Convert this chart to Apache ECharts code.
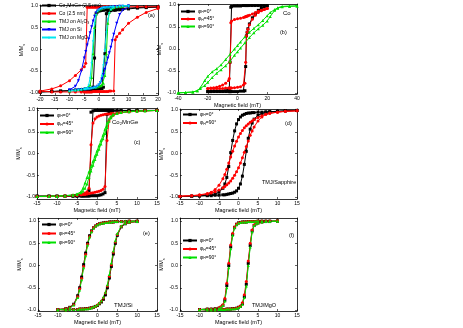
<!DOCTYPE html>
<html>
<head>
<meta charset="utf-8">
<script src="https://cdn.jsdelivr.net/npm/echarts@6/dist/echarts.min.js"></script>
<style>
html, body { margin: 0; padding: 0; background: #fff; }
#chart { width: 463px; height: 328px; }
</style>
</head>
<body>
<div id="chart"></div>
<script>
// field grids (mT)
var fieldA = [-20,-16,-13,-10,-8,-6,-5,-4.5,-4,-3.5,-3,-2.5,-2,-1.5,-1,-0.5,0,0.5,1,1.5,2,2.5,3,3.5,4,5,5.5,6,7,8,10,13,16,20];
var fieldTmj = [-10,-8,-7,-6,-5,-4.5,-4,-3.5,-3,-2.5,-2,-1.5,-1,-0.5,0,0.5,1,1.5,2,2.5,3,3.5,4,4.5,5,6,7,8,10];
var fieldB = [-20,-18,-16,-14,-12,-10,-8,-6,-5.5,-5,-4.5,-4,-2,0,2,4,5,5.5,6,6.5,7,8,10,12,14,16,18,20];
var fieldB90 = [-40,-35,-30,-27,-25,-22,-20,-17,-14,-11,-8,-5,-2,0,2,5,8,11,14,17,20,22,25,27,30,35,40];
var fieldC = [-15,-12,-10,-8,-6,-5,-4,-3.5,-3,-2.5,-2,-1.5,-1,-0.5,0,0.5,1,1.5,2,2.5,3,3.5,4,5,6,8,10,12,15];
var fieldD = [-15,-12,-10,-8,-7,-6,-5,-4,-3.5,-3,-2.5,-2,-1.5,-1,-0.5,0,0.5,1,1.5,2,2.5,3,3.5,4,5,6,7,8,10,12,15];

// M/Ms, "down" = branch coming from +saturation, "up" = from -saturation
var aCmgDown = [-0.98,-0.97,-0.96,-0.95,-0.94,-0.94,-0.93,-0.93,-0.92,-0.92,-0.91,-0.9,-0.87,-0.2,0.82,0.86,0.88,0.89,0.9,0.9,0.91,0.91,0.92,0.92,0.92,0.93,0.93,0.93,0.94,0.94,0.95,0.96,0.97,0.98];
var aCmgUp = [-0.98,-0.97,-0.96,-0.95,-0.94,-0.94,-0.93,-0.93,-0.93,-0.93,-0.93,-0.92,-0.92,-0.92,-0.92,-0.91,-0.91,-0.9,-0.9,-0.87,-0.1,0.82,0.86,0.88,0.89,0.9,0.9,0.91,0.91,0.92,0.93,0.95,0.96,0.97];
var aCoDown = [-0.96,-0.91,-0.84,-0.72,-0.6,-0.47,-0.4,-0.32,0.97,0.97,0.97,0.97,0.97,0.97,0.97,0.97,0.97,0.97,0.97,0.98,0.98,0.98,0.98,0.98,0.98,0.98,0.98,0.98,0.98,0.98,0.98,0.98,0.98,0.98];
var aCoUp = [-0.98,-0.98,-0.98,-0.98,-0.98,-0.98,-0.98,-0.98,-0.98,-0.98,-0.98,-0.98,-0.97,-0.97,-0.97,-0.97,-0.97,-0.97,-0.97,-0.97,-0.97,-0.97,-0.97,-0.96,-0.96,-0.96,0.22,0.29,0.37,0.45,0.6,0.74,0.85,0.94];
var aAlDown = [-0.95,-0.93,-0.92,-0.91,-0.9,-0.9,-0.89,-0.87,-0.82,-0.65,-0.1,0.5,0.8,0.88,0.91,0.93,0.94,0.95,0.96,0.96,0.97,0.97,0.98,0.98,0.98,0.99,0.99,0.99,1.0];
var aAlUp = [-0.95,-0.93,-0.92,-0.91,-0.9,-0.9,-0.9,-0.89,-0.89,-0.88,-0.88,-0.87,-0.87,-0.86,-0.85,-0.84,-0.82,-0.78,-0.6,-0.1,0.6,0.85,0.92,0.95,0.96,0.98,0.99,0.99,1.0];
var aSiDown = [-0.93,-0.85,-0.72,-0.5,-0.2,-0.05,0.1,0.24,0.38,0.52,0.65,0.76,0.84,0.88,0.91,0.93,0.94,0.95,0.95,0.96,0.96,0.97,0.97,0.97,0.98,0.98,0.99,0.99,1.0];
var aSiUp = [-0.95,-0.94,-0.93,-0.93,-0.92,-0.92,-0.91,-0.91,-0.9,-0.9,-0.89,-0.88,-0.87,-0.85,-0.82,-0.76,-0.68,-0.58,-0.46,-0.33,-0.2,-0.08,0.05,0.2,0.35,0.6,0.8,0.9,0.97];
var aMgoDown = [-0.96,-0.94,-0.93,-0.92,-0.91,-0.9,-0.88,-0.82,-0.65,-0.3,0.2,0.6,0.8,0.88,0.92,0.94,0.96,0.97,0.97,0.98,0.98,0.98,0.99,0.99,0.99,0.99,1.0,1.0,1.0];
var aMgoUp = [-0.96,-0.94,-0.93,-0.92,-0.91,-0.91,-0.9,-0.9,-0.89,-0.89,-0.88,-0.87,-0.86,-0.84,-0.8,-0.74,-0.6,-0.35,0.0,0.4,0.7,0.85,0.92,0.95,0.97,0.98,0.99,1.0,1.0];

var b0Down = [-0.97,-0.97,-0.96,-0.96,-0.96,-0.96,-0.95,-0.94,-0.9,-0.3,0.95,0.97,0.98,0.98,0.98,0.99,0.99,0.99,0.99,0.99,0.99,0.99,0.99,0.99,0.99,0.99,0.99,0.99];
var b0Up = [-0.97,-0.97,-0.97,-0.97,-0.97,-0.97,-0.97,-0.97,-0.97,-0.97,-0.97,-0.97,-0.97,-0.97,-0.96,-0.96,-0.95,-0.4,0.3,0.38,0.46,0.57,0.71,0.81,0.88,0.93,0.96,0.98];
var b45Down = [-0.9,-0.89,-0.88,-0.87,-0.85,-0.82,-0.78,-0.72,-0.67,-0.3,0.6,0.64,0.67,0.69,0.7,0.72,0.73,0.74,0.74,0.75,0.76,0.77,0.8,0.83,0.86,0.88,0.9,0.92];
var b45Up = [-0.9,-0.9,-0.9,-0.9,-0.9,-0.9,-0.89,-0.89,-0.89,-0.89,-0.89,-0.89,-0.88,-0.87,-0.86,-0.82,-0.78,-0.3,0.3,0.38,0.45,0.55,0.68,0.77,0.83,0.87,0.9,0.92];
var b90Down = [-1.0,-0.99,-0.98,-0.95,-0.88,-0.72,-0.62,-0.52,-0.45,-0.36,-0.24,-0.12,0.0,0.08,0.16,0.28,0.38,0.47,0.55,0.65,0.76,0.83,0.9,0.93,0.96,0.97,0.98];
var b90Up = [-1.0,-0.99,-0.98,-0.95,-0.9,-0.83,-0.76,-0.65,-0.55,-0.47,-0.38,-0.28,-0.14,-0.06,0.02,0.14,0.26,0.37,0.46,0.54,0.64,0.74,0.88,0.94,0.97,0.98,0.98];

var c0Down = [-0.98,-0.98,-0.98,-0.98,-0.98,-0.98,-0.97,-0.97,-0.96,-0.95,-0.85,0.95,0.98,0.99,0.99,0.99,0.99,0.99,0.99,0.99,0.99,0.99,0.99,0.99,0.99,0.99,0.99,0.99,0.99];
var c0Up = [-0.98,-0.98,-0.98,-0.98,-0.98,-0.98,-0.98,-0.98,-0.98,-0.98,-0.98,-0.97,-0.97,-0.97,-0.97,-0.96,-0.95,-0.93,-0.9,0.9,0.96,0.97,0.98,0.98,0.99,0.99,0.99,0.99,0.99];
var c45Down = [-0.99,-0.99,-0.98,-0.98,-0.97,-0.96,-0.95,-0.93,-0.91,-0.88,-0.8,0.2,0.7,0.8,0.84,0.86,0.88,0.89,0.9,0.91,0.91,0.92,0.92,0.93,0.94,0.96,0.97,0.98,0.99];
var c45Up = [-0.99,-0.98,-0.98,-0.97,-0.96,-0.96,-0.95,-0.94,-0.94,-0.93,-0.92,-0.91,-0.9,-0.89,-0.88,-0.87,-0.85,-0.82,-0.76,0.3,0.75,0.84,0.88,0.92,0.94,0.96,0.97,0.98,0.99];
var c90Down = [-0.99,-0.98,-0.98,-0.97,-0.95,-0.93,-0.88,-0.8,-0.68,-0.55,-0.42,-0.3,-0.18,-0.06,0.06,0.18,0.3,0.42,0.56,0.7,0.8,0.86,0.9,0.93,0.95,0.97,0.98,0.98,0.99];
var c90Up = [-0.99,-0.98,-0.98,-0.97,-0.96,-0.94,-0.9,-0.87,-0.8,-0.7,-0.55,-0.4,-0.27,-0.14,-0.02,0.1,0.22,0.34,0.46,0.6,0.74,0.82,0.88,0.92,0.94,0.96,0.97,0.98,0.99];

var d0Down = [-0.99,-0.98,-0.97,-0.96,-0.95,-0.93,-0.89,-0.8,-0.7,-0.55,-0.3,0.02,0.3,0.52,0.68,0.78,0.84,0.88,0.9,0.92,0.93,0.93,0.94,0.94,0.95,0.95,0.96,0.96,0.97,0.98,0.99];
var d0Up = [-0.99,-0.98,-0.98,-0.97,-0.97,-0.96,-0.96,-0.95,-0.95,-0.94,-0.93,-0.92,-0.91,-0.89,-0.86,-0.8,-0.7,-0.52,-0.25,0.05,0.35,0.56,0.7,0.79,0.88,0.92,0.94,0.96,0.97,0.98,0.99];
var d90Down = [-0.98,-0.97,-0.95,-0.92,-0.89,-0.83,-0.73,-0.58,-0.48,-0.36,-0.22,-0.08,0.05,0.17,0.28,0.38,0.46,0.53,0.59,0.64,0.68,0.72,0.75,0.78,0.83,0.87,0.9,0.92,0.95,0.97,0.98];
var d90Up = [-0.98,-0.97,-0.96,-0.93,-0.91,-0.88,-0.84,-0.79,-0.76,-0.72,-0.68,-0.63,-0.57,-0.5,-0.42,-0.33,-0.22,-0.1,0.03,0.16,0.29,0.42,0.52,0.61,0.75,0.84,0.9,0.93,0.95,0.97,0.98];

var e0Down = [-0.99,-0.97,-0.94,-0.87,-0.68,-0.5,-0.26,0.02,0.28,0.5,0.67,0.78,0.85,0.89,0.92,0.94,0.95,0.96,0.97,0.97,0.98,0.98,0.98,0.99,0.99,0.99,0.99,1.0,1.0];
var e0Up = [-1.0,-1.0,-0.99,-0.99,-0.99,-0.98,-0.98,-0.98,-0.97,-0.97,-0.96,-0.95,-0.94,-0.92,-0.9,-0.86,-0.82,-0.76,-0.66,-0.5,-0.28,-0.02,0.26,0.5,0.68,0.87,0.94,0.97,0.99];
var e45Down = [-0.99,-0.97,-0.95,-0.88,-0.7,-0.52,-0.29,-0.02,0.25,0.48,0.65,0.77,0.85,0.89,0.92,0.94,0.95,0.96,0.97,0.97,0.98,0.98,0.98,0.99,0.99,0.99,0.99,1.0,1.0];
var e45Up = [-1.0,-1.0,-0.99,-0.99,-0.99,-0.98,-0.98,-0.98,-0.97,-0.97,-0.96,-0.95,-0.94,-0.92,-0.89,-0.85,-0.8,-0.73,-0.62,-0.46,-0.24,0.02,0.3,0.53,0.7,0.88,0.95,0.97,0.99];
var e90Down = [-0.99,-0.98,-0.95,-0.89,-0.72,-0.55,-0.32,-0.05,0.22,0.46,0.64,0.76,0.84,0.89,0.92,0.94,0.95,0.96,0.97,0.97,0.98,0.98,0.99,0.99,0.99,0.99,1.0,1.0,1.0];
var e90Up = [-1.0,-1.0,-0.99,-0.99,-0.99,-0.98,-0.98,-0.98,-0.97,-0.97,-0.96,-0.95,-0.93,-0.91,-0.88,-0.84,-0.79,-0.71,-0.6,-0.43,-0.2,0.06,0.33,0.56,0.72,0.89,0.95,0.98,0.99];

var f0Down = [-0.99,-0.98,-0.98,-0.97,-0.96,-0.94,-0.9,-0.78,-0.45,0.0,0.42,0.7,0.86,0.93,0.96,0.97,0.98,0.98,0.98,0.99,0.99,0.99,0.99,0.99,1.0,1.0,1.0,1.0,1.0];
var f0Up = [-1.0,-1.0,-1.0,-1.0,-0.99,-0.99,-0.99,-0.99,-0.98,-0.98,-0.98,-0.97,-0.97,-0.96,-0.94,-0.92,-0.86,-0.7,-0.42,0.05,0.45,0.78,0.9,0.94,0.96,0.98,0.99,0.99,1.0];
var f45Down = [-0.99,-0.98,-0.98,-0.97,-0.95,-0.93,-0.88,-0.74,-0.4,0.05,0.46,0.72,0.87,0.93,0.96,0.97,0.98,0.98,0.98,0.99,0.99,0.99,0.99,0.99,1.0,1.0,1.0,1.0,1.0];
var f45Up = [-1.0,-1.0,-1.0,-1.0,-0.99,-0.99,-0.99,-0.99,-0.98,-0.98,-0.98,-0.97,-0.97,-0.96,-0.94,-0.91,-0.84,-0.66,-0.36,0.1,0.5,0.8,0.91,0.95,0.96,0.98,0.99,0.99,1.0];
var f90Down = [-0.99,-0.98,-0.98,-0.97,-0.96,-0.94,-0.9,-0.8,-0.5,-0.05,0.38,0.68,0.85,0.92,0.96,0.97,0.98,0.98,0.98,0.99,0.99,0.99,0.99,1.0,1.0,1.0,1.0,1.0,1.0];
var f90Up = [-1.0,-1.0,-1.0,-1.0,-0.99,-0.99,-0.99,-0.99,-0.98,-0.98,-0.98,-0.97,-0.97,-0.96,-0.95,-0.92,-0.87,-0.72,-0.46,0.0,0.42,0.76,0.9,0.94,0.96,0.98,0.99,0.99,1.0];

var yTicks = [-1, -0.5, 0, 0.5, 1];

var font = 'Liberation Sans, DejaVu Sans, Arial, sans-serif';
var starPath = 'path://M5,0 L6.2,3.8 L10,3.8 L6.9,6.1 L8.1,10 L5,7.6 L1.9,10 L3.1,6.1 L0,3.8 L3.8,3.8 Z';
var downTri = 'path://M0,0 L10,0 L5,9 Z';

// panel layout: grid box, x range, y range, legend
var panels = [
    { grid: {left: 40, top: 5, width: 118, height: 90}, x: [-20, 20, 5], y: [-1.05, 1.02], xname: '',
      legend: {left: 41, top: 3, gap: 3} },
    { grid: {left: 178, top: 4, width: 119, height: 90}, x: [-40, 40, 20], y: [-1.025, 1.025], xname: 'Magnetic field (mT)',
      legend: {left: 180, top: 9, gap: 2} },
    { grid: {left: 37, top: 108, width: 120, height: 91}, x: [-15, 15, 5], y: [-1.046, 1.046], xname: 'Magnetic field (mT)',
      legend: {left: 39, top: 113, gap: 3} },
    { grid: {left: 180, top: 109, width: 117, height: 90}, x: [-15, 15, 5], y: [-1.046, 1.023], xname: 'Magnetic field (mT)',
      legend: {left: 182, top: 112, gap: 3} },
    { grid: {left: 38, top: 218, width: 119, height: 93}, x: [-15, 15, 5], y: [-1.023, 1.07], xname: 'Magnetic field (mT)',
      legend: {left: 41, top: 222, gap: 3.5} },
    { grid: {left: 180, top: 218, width: 117, height: 93}, x: [-15, 15, 5], y: [-1.023, 1.07], xname: 'Magnetic field (mT)',
      legend: {left: 182, top: 238, gap: 3} }
];

// [panel, key, label, color, symbol, field, down, up]
var curves = [
    [0, 'a0', 'Co₂MnGe (2.5 nm)', '#000000', 'rect', fieldA, aCmgDown, aCmgUp],
    [0, 'a1', 'Co (2.5 nm)', '#ff0000', 'circle', fieldA, aCoDown, aCoUp],
    [0, 'a2', 'TMJ on Al₂O₃', '#00e000', 'triangle', fieldTmj, aAlDown, aAlUp],
    [0, 'a3', 'TMJ on Si', '#0000ff', downTri, fieldTmj, aSiDown, aSiUp],
    [0, 'a4', 'TMJ on MgO', '#00e8f0', starPath, fieldTmj, aMgoDown, aMgoUp],
    [1, 'b0', 'φH=0°', '#000000', 'rect', fieldB, b0Down, b0Up],
    [1, 'b1', 'φH=45°', '#ff0000', 'circle', fieldB, b45Down, b45Up],
    [1, 'b2', 'φH=90°', '#00e000', 'triangle', fieldB90, b90Down, b90Up],
    [2, 'c0', 'φH=0°', '#000000', 'rect', fieldC, c0Down, c0Up],
    [2, 'c1', 'φH=45°', '#ff0000', 'circle', fieldC, c45Down, c45Up],
    [2, 'c2', 'φH=90°', '#00e000', 'triangle', fieldC, c90Down, c90Up],
    [3, 'd0', 'φH=0°', '#000000', 'rect', fieldD, d0Down, d0Up],
    [3, 'd1', 'φH=90°', '#ff0000', 'circle', fieldD, d90Down, d90Up],
    [4, 'e0', 'φH=0°', '#000000', 'rect', fieldTmj, e0Down, e0Up],
    [4, 'e1', 'φH=45°', '#ff0000', 'circle', fieldTmj, e45Down, e45Up],
    [4, 'e2', 'φH=90°', '#00e000', 'triangle', fieldTmj, e90Down, e90Up],
    [5, 'f0', 'φH=0°', '#000000', 'rect', fieldTmj, f0Down, f0Up],
    [5, 'f1', 'φH=45°', '#ff0000', 'circle', fieldTmj, f45Down, f45Up],
    [5, 'f2', 'φH=90°', '#00e000', 'triangle', fieldTmj, f90Down, f90Up]
];

var labelOf = {};
curves.forEach(function (c) { labelOf[c[1]] = c[2]; });

function loop(f, down, up) {
    var d = [];
    for (var i = f.length - 1; i >= 0; i--) d.push([f[i], down[i]]);
    for (var j = 0; j < f.length; j++) d.push([f[j], up[j]]);
    return d;
}

var grids = [], xAxes = [], yAxes = [], legends = [], series = [];
panels.forEach(function (p, k) {
    grids.push(p.grid);
    var tick = {show: true, inside: true, length: 2, lineStyle: {color: '#000', width: 0.6}};
    var line = {show: true, onZero: false, lineStyle: {color: '#000', width: 0.8}};
    xAxes.push({
        type: 'value', gridIndex: k, position: 'bottom', min: p.x[0], max: p.x[1], interval: p.x[2],
        axisLine: line, axisTick: tick, splitLine: {show: false},
        axisLabel: {fontSize: 5, color: '#000', margin: 2, fontFamily: font},
        name: p.xname, nameLocation: 'middle', nameGap: 8,
        nameTextStyle: {fontSize: 5.5, color: '#000', fontFamily: font}
    });
    xAxes.push({
        type: 'value', gridIndex: k, position: 'top', min: p.x[0], max: p.x[1], interval: p.x[2],
        axisLine: line, axisTick: tick, splitLine: {show: false}, axisLabel: {show: false}
    });
    yAxes.push({
        type: 'value', gridIndex: k, position: 'left', min: p.y[0], max: p.y[1],
        axisLine: line, axisTick: Object.assign({customValues: yTicks}, tick), splitLine: {show: false},
        axisLabel: {customValues: yTicks, fontSize: 5, color: '#000', margin: 2, fontFamily: font,
            formatter: function (v) { return v.toFixed(1); }},
        name: '{m|M/M}{s|s}', nameLocation: 'middle', nameGap: 12, nameRotate: 90,
        nameTextStyle: {color: '#000', rich: {
            m: {fontSize: 5.5, fontFamily: font, color: '#000'},
            s: {fontSize: 4, fontFamily: font, color: '#000', padding: [3, 0, 0, 0]}
        }}
    });
    yAxes.push({
        type: 'value', gridIndex: k, position: 'right', min: p.y[0], max: p.y[1],
        axisLine: line, axisTick: Object.assign({customValues: yTicks}, tick), splitLine: {show: false},
        axisLabel: {show: false}
    });
    var names = curves.filter(function (c) { return c[0] === k; }).map(function (c) { return c[1]; });
    legends.push({
        data: names, orient: 'vertical', left: p.legend.left, top: p.legend.top,
        itemWidth: 14, itemHeight: 4, itemGap: p.legend.gap, padding: 0,
        selectedMode: false,
        formatter: function (n) {
            var t = labelOf[n];
            if (t.indexOf('φH') === 0) return '{a|φ}{s|H}{a|' + t.slice(2) + '}';
            return '{a|' + t + '}';
        },
        textStyle: {fontSize: 5, color: '#000', fontFamily: font, padding: [0, 0, 0, -2], rich: {
            a: {fontSize: 5, color: '#000', fontFamily: font},
            s: {fontSize: 3.5, color: '#000', fontFamily: font, padding: [2, 0, 0, 0]}
        }}
    });
});

curves.forEach(function (c) {
    series.push({
        type: 'line', name: c[1], xAxisIndex: c[0] * 2, yAxisIndex: c[0] * 2,
        data: loop(c[5], c[6], c[7]),
        symbol: c[4], symbolSize: 3, showSymbol: true,
        lineStyle: {color: c[3], width: 1}, itemStyle: {color: c[3]},
        silent: true
    });
});

function txt(x, y, s, size) {
    return {type: 'text', left: x, top: y, silent: true,
        style: {text: s, fontSize: size || 5.5, fill: '#000', fontFamily: font}};
}

var chart = echarts.init(document.getElementById('chart'), null, {renderer: 'canvas'});
chart.setOption({
    animation: false,
    backgroundColor: '#fff',
    grid: grids,
    xAxis: xAxes,
    yAxis: yAxes,
    legend: legends,
    series: series,
    graphic: [
        txt(148, 12, '(a)'),
        txt(283, 10, 'Co', 6),
        txt(280, 29, '(b)'),
        txt(112, 119, 'Co₂MnGe', 6),
        txt(134, 139, '(c)'),
        txt(285, 120, '(d)'),
        txt(262, 179, 'TMJ/Sapphire'),
        txt(143, 230, '(e)'),
        txt(114, 302, 'TMJ/Si', 6),
        txt(289, 232, '(f)'),
        txt(252, 302, 'TMJ/MgO')
    ]
});
</script>
</body>
</html>
